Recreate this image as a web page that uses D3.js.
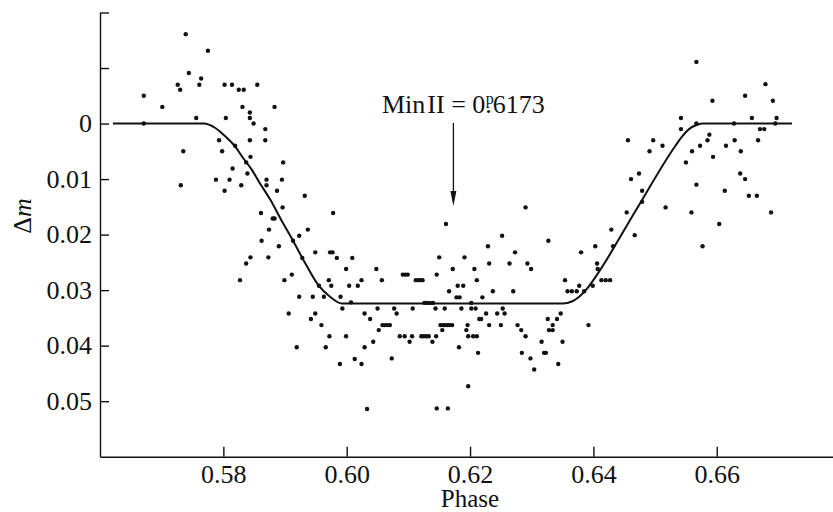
<!DOCTYPE html>
<html>
<head>
<meta charset="utf-8">
<script src="https://cdn.jsdelivr.net/npm/d3@7/dist/d3.min.js"></script>
<style>
  html, body { margin: 0; padding: 0; background: #fff; }
  svg { display: block; }
  text { font-family: "Liberation Serif", "Times New Roman", serif; fill: #111; }
</style>
</head>
<body>
<svg id="chart" width="833" height="512"></svg>
<script>
// Observed light-curve points: orbital phase and magnitude difference
const phase = [
  0.5671, 0.5701, 0.5671, 0.5739, 0.5775, 0.5744, 0.5726, 0.5730, 0.5764, 0.5761,
  0.5756, 0.5735, 0.5731, 0.5802, 0.5814, 0.5825, 0.5833, 0.5855, 0.5831, 0.5883,
  0.5843, 0.5843, 0.5849, 0.5804, 0.5793, 0.5798, 0.5819, 0.5843, 0.5844, 0.5868,
  0.5868, 0.5837, 0.5839, 0.5815, 0.5810, 0.5788, 0.5802, 0.5829, 0.5870, 0.5870,
  0.5887, 0.5861, 0.5880, 0.5883, 0.5874, 0.5862, 0.5890, 0.5844, 0.5873, 0.5897,
  0.5895, 0.5932, 0.5896, 0.5978, 0.5937, 0.5923, 0.5913, 0.5949, 0.5973, 0.5977,
  0.5984, 0.6009, 0.5928, 0.5837, 0.5827, 0.5899, 0.5911, 0.5999, 0.6048, 0.5971,
  0.6024, 0.5955, 0.5975, 0.6004, 0.6018, 0.5923, 0.5945, 0.5963, 0.5990, 0.6007,
  0.5993, 0.6050, 0.5906, 0.5949, 0.5942, 0.6029, 0.6038, 0.5959, 0.6052, 0.5972,
  0.5999, 0.6043, 0.5919, 0.5966, 0.6029, 0.6013, 0.5989, 0.6024, 0.6033,
  0.6161, 0.6150, 0.6191, 0.6229, 0.6252, 0.6273, 0.6290, 0.6327, 0.6231, 0.6264,
  0.6293, 0.6172, 0.6207, 0.6299, 0.6091, 0.6095, 0.6099, 0.6146, 0.6057, 0.6112,
  0.6116, 0.6120, 0.6123, 0.6211, 0.6354, 0.6180, 0.6189, 0.6377, 0.6166, 0.6237,
  0.6270, 0.6358, 0.6365, 0.6373, 0.6178, 0.6183, 0.6220, 0.6126, 0.6130, 0.6135,
  0.6140, 0.6202, 0.6077, 0.6107, 0.6144, 0.6159, 0.6186, 0.6202, 0.6209, 0.6253,
  0.6081, 0.6226, 0.6244, 0.6256, 0.6347, 0.6215, 0.6218, 0.6326, 0.6341,
  0.6058, 0.6062, 0.6066, 0.6070, 0.6152, 0.6156, 0.6159, 0.6163, 0.6167, 0.6171,
  0.6196, 0.6231, 0.6250, 0.6277, 0.6334, 0.6392,
  0.6155, 0.6194, 0.6283, 0.6328, 0.6334,
  0.6086, 0.6094, 0.6106, 0.6121, 0.6125, 0.6129, 0.6133, 0.6145, 0.6197, 0.6205,
  0.6211, 0.6290, 0.6102, 0.6139, 0.6316, 0.6350, 0.6182, 0.6213, 0.6284, 0.6320,
  0.6323, 0.6073, 0.6298, 0.6343, 0.6304, 0.6197, 0.6146, 0.6164, 0.6380,
  0.6567, 0.6679, 0.6646, 0.6593, 0.6691, 0.6542, 0.6657, 0.6697, 0.6542, 0.6567,
  0.6628, 0.6695, 0.6670, 0.6677, 0.6588, 0.6585, 0.6573, 0.6560, 0.6456, 0.6497,
  0.6512, 0.6491, 0.6615, 0.6629, 0.6639, 0.6667, 0.6594, 0.6550, 0.6474, 0.6461,
  0.6638, 0.6646, 0.6479, 0.6479, 0.6567, 0.6613, 0.6652, 0.6665, 0.6454, 0.6517,
  0.6559, 0.6688, 0.6604, 0.6429, 0.6467, 0.6403, 0.6432, 0.6577, 0.6406, 0.6407,
  0.6413, 0.6420, 0.6427, 0.6399, 0.6385
];
const deltaM = [
  -0.0050, -0.0030, 0.0000, -0.0161, -0.0131, -0.0091, -0.0070, -0.0061, -0.0081, -0.0070,
  -0.0010, 0.0050, 0.0111, -0.0070, -0.0070, -0.0061, -0.0061, -0.0070, -0.0030, -0.0030,
  -0.0020, -0.0010, 0.0000, -0.0010, 0.0030, 0.0050, 0.0040, 0.0030, 0.0060, 0.0010,
  0.0030, 0.0070, 0.0090, 0.0081, 0.0101, 0.0101, 0.0121, 0.0111, 0.0101, 0.0111,
  0.0121, 0.0161, 0.0171, 0.0171, 0.0191, 0.0211, 0.0221, 0.0241, 0.0241, 0.0070,
  0.0101, 0.0130, 0.0151, 0.0161, 0.0191, 0.0202, 0.0211, 0.0232, 0.0232, 0.0232,
  0.0242, 0.0242, 0.0242, 0.0252, 0.0282, 0.0282, 0.0272, 0.0262, 0.0262, 0.0282,
  0.0282, 0.0292, 0.0292, 0.0292, 0.0292, 0.0312, 0.0312, 0.0312, 0.0312, 0.0322,
  0.0333, 0.0333, 0.0342, 0.0342, 0.0352, 0.0342, 0.0352, 0.0363, 0.0372, 0.0383,
  0.0383, 0.0393, 0.0403, 0.0403, 0.0403, 0.0424, 0.0433, 0.0433, 0.0514,
  0.0181, 0.0241, 0.0241, 0.0221, 0.0202, 0.0232, 0.0151, 0.0211, 0.0252, 0.0252,
  0.0252, 0.0262, 0.0262, 0.0262, 0.0272, 0.0272, 0.0272, 0.0272, 0.0282, 0.0282,
  0.0282, 0.0282, 0.0282, 0.0282, 0.0282, 0.0292, 0.0292, 0.0292, 0.0302, 0.0302,
  0.0302, 0.0302, 0.0302, 0.0302, 0.0313, 0.0313, 0.0313, 0.0323, 0.0323, 0.0323,
  0.0323, 0.0323, 0.0333, 0.0333, 0.0333, 0.0333, 0.0333, 0.0333, 0.0333, 0.0333,
  0.0342, 0.0342, 0.0342, 0.0342, 0.0342, 0.0352, 0.0352, 0.0352, 0.0352,
  0.0363, 0.0363, 0.0363, 0.0363, 0.0363, 0.0363, 0.0363, 0.0363, 0.0363, 0.0363,
  0.0363, 0.0363, 0.0363, 0.0363, 0.0363, 0.0363,
  0.0372, 0.0372, 0.0372, 0.0372, 0.0372,
  0.0383, 0.0383, 0.0383, 0.0383, 0.0383, 0.0383, 0.0383, 0.0383, 0.0383, 0.0383,
  0.0383, 0.0383, 0.0393, 0.0393, 0.0393, 0.0393, 0.0403, 0.0413, 0.0413, 0.0413,
  0.0413, 0.0423, 0.0423, 0.0433, 0.0443, 0.0473, 0.0513, 0.0513, 0.0232,
  -0.0111, -0.0071, -0.0050, -0.0041, -0.0041, -0.0010, -0.0010, -0.0010, 0.0010, 0.0000,
  0.0000, 0.0000, 0.0010, 0.0010, 0.0020, 0.0030, 0.0040, 0.0050, 0.0030, 0.0030,
  0.0040, 0.0050, 0.0040, 0.0030, 0.0050, 0.0030, 0.0060, 0.0070, 0.0090, 0.0100,
  0.0090, 0.0100, 0.0121, 0.0141, 0.0110, 0.0121, 0.0130, 0.0130, 0.0160, 0.0151,
  0.0160, 0.0160, 0.0181, 0.0191, 0.0201, 0.0221, 0.0221, 0.0221, 0.0252, 0.0262,
  0.0282, 0.0282, 0.0282, 0.0292, 0.0302
];

// Model light curve of the secondary eclipse
const modelPhase = [
  0.5621, 0.5768, 0.5787, 0.5803, 0.5819, 0.5832, 0.5846, 0.5859, 0.5876, 0.5895,
  0.5913, 0.5930, 0.5954, 0.5973, 0.5992, 0.6351, 0.6364, 0.6377, 0.6390, 0.6403,
  0.6468, 0.6533, 0.6544, 0.6555, 0.6566, 0.6577, 0.6722
];
const modelDeltaM = [
  0.0000, 0.0000, 0.0008, 0.0023, 0.0041, 0.0062, 0.0083, 0.0107, 0.0137, 0.0176,
  0.0211, 0.0246, 0.0291, 0.0312, 0.0324, 0.0324, 0.0321, 0.0312, 0.0297, 0.0277,
  0.0158, 0.0040, 0.0023, 0.0010, 0.0003, 0.0000, 0.0000
];

// Axis ticks
const xTicks = [0.58, 0.60, 0.62, 0.64, 0.66];
const yTicks = [-0.02, -0.01, 0, 0.01, 0.02, 0.03, 0.04, 0.05];
const yLabelled = [0, 0.01, 0.02, 0.03, 0.04, 0.05];

// Time of secondary minimum
const minII = 0.6173;

const svg = d3.select("#chart");
const x = d3.scaleLinear().domain([0.56, 0.68]).range([100, 840.1]);
const y = d3.scaleLinear().domain([-0.02, 0.06]).range([12.5, 456.7]);

const axisStyle = g => {
  g.selectAll("path, line").attr("stroke", "#111").attr("stroke-width", 1.4);
  g.selectAll("text").attr("font-size", 26).attr("fill", "#111")
    .attr("font-family", "'Liberation Serif', 'Times New Roman', serif");
};

svg.append("g")
  .attr("transform", "translate(100,0)")
  .call(d3.axisLeft(y)
    .tickValues(yTicks)
    .tickSizeInner(-9).tickSizeOuter(0).tickPadding(8)
    .tickFormat(d => yLabelled.some(v => Math.abs(v - d) < 1e-9) ? (d === 0 ? "0" : d3.format(".2f")(d)) : ""))
  .call(axisStyle);

svg.append("g")
  .attr("transform", `translate(0,${y(0.06)})`)
  .call(d3.axisBottom(x)
    .tickValues(xTicks)
    .tickSizeInner(-10).tickSizeOuter(0).tickPadding(8)
    .tickFormat(d3.format(".2f")))
  .call(axisStyle);

// model curve
svg.append("path")
  .datum(d3.zip(modelPhase, modelDeltaM))
  .attr("fill", "none")
  .attr("stroke", "#111")
  .attr("stroke-width", 2)
  .attr("d", d3.line().x(d => x(d[0])).y(d => y(d[1])).curve(d3.curveMonotoneX));

// observations
svg.append("g")
  .selectAll("circle")
  .data(d3.zip(phase, deltaM))
  .join("circle")
  .attr("cx", d => x(d[0]))
  .attr("cy", d => y(d[1]))
  .attr("r", 2.2)
  .attr("fill", "#111");

// minimum marker
const ax = x(minII);
svg.append("line")
  .attr("x1", ax).attr("x2", ax)
  .attr("y1", 123).attr("y2", 194)
  .attr("stroke", "#111").attr("stroke-width", 1.3);
svg.append("path")
  .attr("d", `M${ax - 3},191 L${ax + 3},191 L${ax},206 Z`)
  .attr("fill", "#111");

const label = svg.append("text")
  .attr("x", 382).attr("y", 113)
  .attr("font-size", 26);
label.append("tspan").text("Min");
label.append("tspan").attr("dx", 2).text("II = 0");
label.append("tspan").text(".");
label.append("tspan").attr("font-size", 16).attr("dx", -6).attr("dy", -9).text("p");
label.append("tspan").attr("dy", 9).attr("dx", -1).text("6173");

// axis titles
svg.append("text")
  .attr("x", 470).attr("y", 507)
  .attr("text-anchor", "middle")
  .attr("font-size", 25)
  .text("Phase");

const yTitle = svg.append("text")
  .attr("transform", "translate(31,216) rotate(-90)")
  .attr("text-anchor", "middle")
  .attr("font-size", 26);
yTitle.append("tspan").text("Δ");
yTitle.append("tspan").attr("font-style", "italic").text("m");
</script>
</body>
</html>
